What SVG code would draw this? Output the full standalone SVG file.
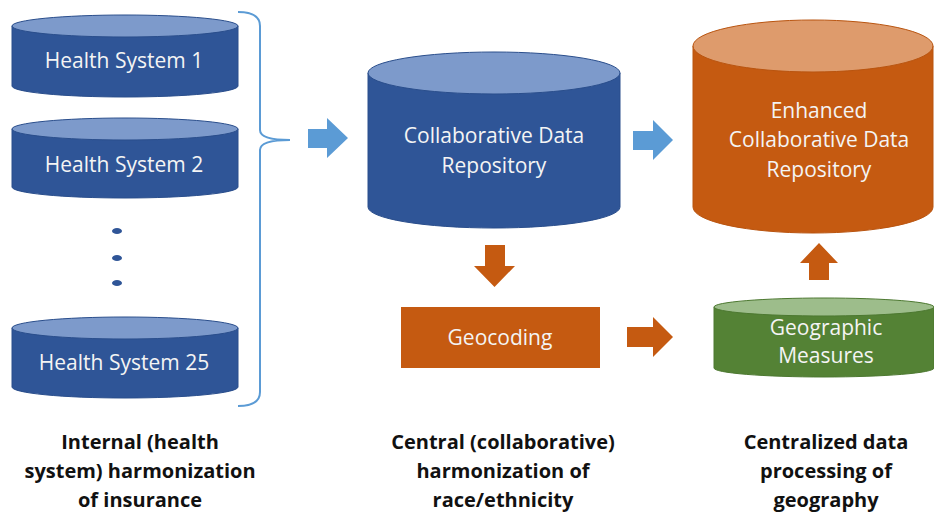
<svg xmlns="http://www.w3.org/2000/svg" width="934" height="515" viewBox="0 0 934 515">
  <style>
    .blue-body { fill: #2F5597; stroke: #2A4E8C; stroke-width: 1; }
    .blue-top { fill: #7D9ACB; stroke: #2A4E8C; stroke-width: 1; }
    .orange-body { fill: #C55A11; stroke: #B9540F; stroke-width: 1; }
    .orange-top { fill: #DE9B6C; stroke: #B9540F; stroke-width: 1; }
    .green-body { fill: #548235; stroke: #4C7830; stroke-width: 1; }
    .green-top { fill: #9DBD8B; stroke: #4C7830; stroke-width: 1; }
    .arrow-blue { fill: #5B9BD5; }
    .arrow-orange { fill: #C55A11; }
    .label { font-family: "Open Sans", "Liberation Sans", sans-serif; font-size: 21px; fill: #F4F4F4; text-anchor: middle; }
    .caption { font-family: "Open Sans", "Liberation Sans", sans-serif; font-size: 20px; font-weight: bold; fill: #111111; text-anchor: middle; }
    .brace { fill: none; stroke: #5B9BD5; stroke-width: 2; }
  </style>

  <!-- Health system databases -->
  <g id="health-system-1">
    <path class="blue-body" d="M12,26 L12,86 A113,11 0 0 0 238,86 L238,26 Z"/>
    <ellipse class="blue-top" cx="125" cy="26" rx="113" ry="11"/>
    <text class="label" x="124" y="68">Health System 1</text>
  </g>
  <g id="health-system-2">
    <path class="blue-body" d="M12,129 L12,187 A113,11 0 0 0 238,187 L238,129 Z"/>
    <ellipse class="blue-top" cx="125" cy="129" rx="113" ry="11"/>
    <text class="label" x="124" y="172">Health System 2</text>
  </g>
  <g id="ellipsis-dots">
    <ellipse cx="117" cy="231" rx="5" ry="3" fill="#2F5597"/>
    <ellipse cx="117" cy="258" rx="5" ry="3" fill="#2F5597"/>
    <ellipse cx="117" cy="283" rx="5" ry="3" fill="#2F5597"/>
  </g>
  <g id="health-system-25">
    <path class="blue-body" d="M12,328 L12,387 A113,11 0 0 0 238,387 L238,328 Z"/>
    <ellipse class="blue-top" cx="125" cy="328" rx="113" ry="11"/>
    <text class="label" x="124" y="370">Health System 25</text>
  </g>

  <!-- Central repository -->
  <g id="collaborative-repository">
    <path class="blue-body" d="M368,73 L368,207 A126,21 0 0 0 620,207 L620,73 Z"/>
    <ellipse class="blue-top" cx="494" cy="73" rx="126" ry="21"/>
    <text class="label" x="494" y="143">Collaborative Data</text>
    <text class="label" x="494" y="173">Repository</text>
  </g>

  <g id="geocoding">
    <rect x="401" y="307" width="199" height="61" fill="#C55A11"/>
    <text class="label" x="500" y="345">Geocoding</text>
  </g>

  <!-- Enhanced repository -->
  <g id="enhanced-repository">
    <path class="orange-body" d="M693,46 L693,207 A120,26 0 0 0 933,207 L933,46 Z"/>
    <ellipse class="orange-top" cx="813" cy="46" rx="120" ry="26"/>
    <text class="label" x="819" y="118">Enhanced</text>
    <text class="label" x="819" y="147">Collaborative Data</text>
    <text class="label" x="819" y="177">Repository</text>
  </g>

  <g id="geographic-measures">
    <path class="green-body" d="M714,307 L714,368 A110,9 0 0 0 934,368 L934,307 Z"/>
    <ellipse class="green-top" cx="824" cy="307" rx="110" ry="9"/>
    <text class="label" x="826" y="335">Geographic</text>
    <text class="label" x="826" y="363">Measures</text>
  </g>

  <!-- Flow arrows and grouping brace -->
  <g id="connectors">
    <path class="brace" d="M238,12 Q260,12 260,26 L260,130 Q260,140 290,140 Q260,140 260,150 L260,392 Q260,406 238,406"/>
    <polygon class="arrow-blue" points="308,129 327,129 327,118 348,138 327,158 327,148 308,148"/>
    <polygon class="arrow-blue" points="633,131 653,131 653,120 673,140 653,160 653,150 633,150"/>
    <polygon class="arrow-orange" points="485,245 505,245 505,266 515,266 494.5,287 474,266 485,266"/>
    <polygon class="arrow-orange" points="627,327 653,327 653,317 673,337 653,357 653,347 627,347"/>
    <polygon class="arrow-orange" points="809,280 829,280 829,263 838,263 819,243 800,263 809,263"/>
  </g>

  <!-- Stage captions -->
  <g id="captions">
    <text class="caption" x="140" y="449">Internal (health</text>
    <text class="caption" x="140" y="478">system) harmonization</text>
    <text class="caption" x="140" y="507">of insurance</text>
    <text class="caption" x="503" y="449">Central (collaborative)</text>
    <text class="caption" x="503" y="478">harmonization of</text>
    <text class="caption" x="503" y="507">race/ethnicity</text>
    <text class="caption" x="826" y="449">Centralized data</text>
    <text class="caption" x="826" y="478">processing of</text>
    <text class="caption" x="826" y="507">geography</text>
  </g>
</svg>
